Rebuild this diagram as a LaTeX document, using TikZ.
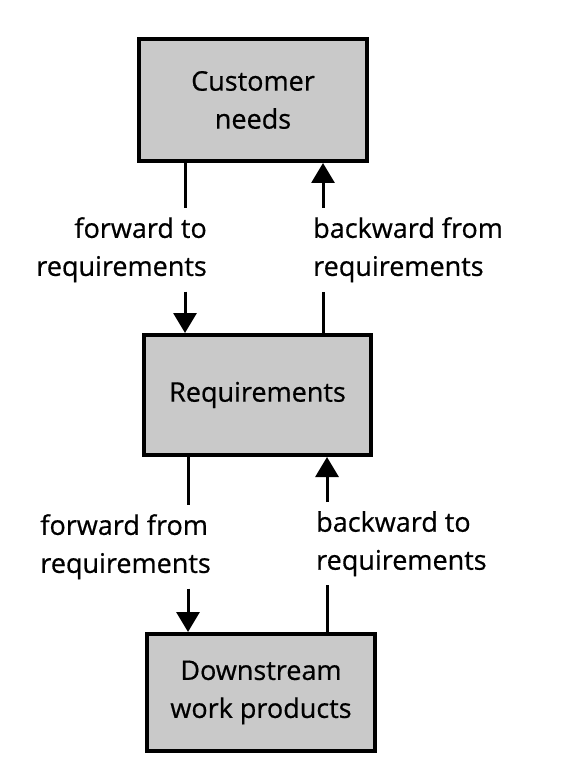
\documentclass[tikz,border=0pt]{standalone}
\usepackage{fontspec}
\setmainfont{Open Sans}[FakeBold=0.6]
\usetikzlibrary{arrows.meta}
\begin{document}
\begin{tikzpicture}[x=1pt,y=-1pt,
  box/.style={draw=black,line width=4pt,fill=black!21,align=center,inner sep=0pt,
    font=\fontsize{27}{38}\selectfont},
  lab/.style={inner xsep=0pt,inner ysep=9pt,font=\fontsize{27}{38}\selectfont},
  link/.style={line width=3pt},
  arr/.style={line width=3pt,-{Triangle[width=23pt,length=20pt]}}]
\useasboundingbox (0,0) rectangle (569,767);
\node[box,minimum width=228pt,minimum height=122pt] (cn) at (253,100) {Customer\\needs};
\node[box,minimum width=227pt,minimum height=120pt] (rq) at (257.5,395) {Requirements};
\node[box,minimum width=228pt,minimum height=117pt] (dw) at (261,692.5) {Downstream\\work products};
% labels
\node[lab,align=right,anchor=north east] (l1) at (207,208) {forward to\\requirements};
\node[lab,align=left,anchor=north west] (l2) at (313,208) {backward from\\requirements};
\node[lab,align=left,anchor=north east] (l3) at (211,505) {forward from\\requirements};
\node[lab,align=left,anchor=north west] (l4) at (316,502) {backward to\\requirements};
% upper connectors
\draw[link] ([xshift=-68pt]cn.south) -- ([xshift=-68pt]cn.south |- l1.north);
\draw[arr] ([xshift=-68pt]cn.south |- l1.south) -- ([xshift=-68pt]cn.south |- rq.north);
\draw[link] ([xshift=70pt]cn.south |- rq.north) -- ([xshift=70pt]cn.south |- l2.south);
\draw[arr] ([xshift=70pt]cn.south |- l2.north) -- ([xshift=70pt]cn.south);
% lower connectors
\draw[link] ([xshift=-69.5pt]rq.south) -- ([xshift=-69.5pt]rq.south |- l3.north);
\draw[arr] ([xshift=-69.5pt]rq.south |- l3.south) -- ([xshift=-69.5pt]rq.south |- dw.north);
\draw[link] ([xshift=69.5pt]rq.south |- dw.north) -- ([xshift=69.5pt]rq.south |- l4.south);
\draw[arr] ([xshift=69.5pt]rq.south |- l4.north) -- ([xshift=69.5pt]rq.south);
\end{tikzpicture}
\end{document}
